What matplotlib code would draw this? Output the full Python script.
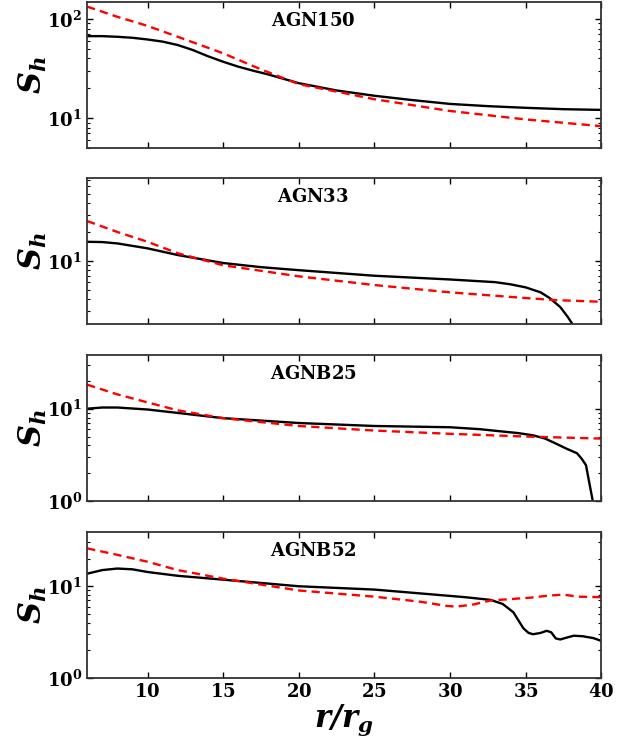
import numpy as np
import matplotlib
matplotlib.use("Agg")
import matplotlib.pyplot as plt
from matplotlib import ticker

plt.rcParams['mathtext.fontset'] = 'custom'
plt.rcParams['mathtext.rm'] = 'DejaVu Serif'
plt.rcParams['mathtext.it'] = 'DejaVu Serif:italic'
plt.rcParams['mathtext.bf'] = 'DejaVu Serif:bold'
plt.rcParams['mathtext.bfit'] = 'DejaVu Serif:italic:bold'
plt.rcParams['font.family'] = 'serif'
plt.rcParams['font.serif'] = ['DejaVu Serif']

names = ["AGN150", "AGN33", "AGNB25", "AGNB52"]

# panel 1
r1_b = [6, 7, 8, 9, 10, 11, 12, 13, 14, 15, 16, 17, 18, 20, 22.5, 25, 27.5, 30, 32.5, 35, 37.5, 40]
s1_b = [67, 67, 66, 64.5, 62, 59, 54.5, 48.5, 42, 37, 33, 30, 27.5, 22.5, 19, 16.8, 15.2, 13.9, 13.2, 12.7, 12.3, 12.1]
r1_r = [6, 8, 10, 12, 15, 17.5, 20, 22.5, 25, 30, 35, 40]
s1_r = [133, 105, 85, 66, 45, 31, 22, 18.5, 15.5, 11.8, 9.7, 8.3]

# panel 2
r2_b = [6, 7, 8, 10, 12, 15, 17.5, 20, 25, 30, 33, 34, 35, 36, 36.6, 37.3, 37.8, 38.1, 38.5]
s2_b = [15.8, 15.7, 15.2, 13.5, 11.5, 9.5, 8.6, 8.0, 7.0, 6.4, 6.0, 5.7, 5.3, 4.7, 4.1, 3.3, 2.6, 2.2, 1.6]
r2_r = [6, 8, 10, 12, 15, 20, 25, 30, 35, 37, 40]
s2_r = [26, 20, 15.8, 12, 9.0, 6.9, 5.6, 4.7, 4.1, 3.9, 3.75]

# panel 3
r3_b = [6, 7, 8, 10, 12, 15, 20, 25, 30, 32, 33.3, 34.5, 35.5, 36.3, 37, 37.7, 38.4, 38.7, 39, 39.45, 39.6]
s3_b = [10, 10.3, 10.3, 9.8, 9, 7.9, 7.0, 6.5, 6.3, 6.0, 5.7, 5.45, 5.15, 4.75, 4.2, 3.7, 3.3, 2.9, 2.45, 1.0, 0.8]
r3_r = [6, 8, 10, 12, 15, 20, 25, 30, 35, 40]
s3_r = [18.2, 14.3, 11.7, 9.6, 7.9, 6.5, 5.8, 5.35, 5.0, 4.75]

# panel 4
r4_b = [6, 7, 8, 9, 10, 12, 15, 20, 25, 29.8, 31, 32.7, 33.5, 34.2, 34.85, 35.2, 35.5,
        36, 36.4, 36.7, 37, 37.3, 37.7, 38.2, 38.8, 39.5, 40]
s4_b = [13.7, 15.0, 15.6, 15.3, 14.3, 13, 11.8, 10, 9.2, 7.9, 7.6, 7.1, 6.4, 5.2, 3.5, 3.1, 3.0,
        3.1, 3.27, 3.15, 2.7, 2.63, 2.75, 2.89, 2.85, 2.72, 2.54]
r4_r = [6, 8, 10, 12, 15, 20, 25, 28, 29.8, 30.4, 31.5, 32.7, 35.3, 36.5, 37.5, 38.5, 40]
s4_r = [25.9, 22, 18.5, 15, 12.1, 9.0, 7.7, 6.8, 6.1, 6.0, 6.3, 7.0, 7.5, 7.9, 8.1, 7.7, 7.6]

black = [(r1_b, s1_b), (r2_b, s2_b), (r3_b, s3_b), (r4_b, s4_b)]
red = [(r1_r, s1_r), (r2_r, s2_r), (r3_r, s3_r), (r4_r, s4_r)]
ylims = [(5, 148), (2.2, 73), (1, 38), (1, 39)]

fig = plt.figure(figsize=(6.31, 7.38), dpi=100)
bottoms = [0.7995, 0.561, 0.321, 0.0813]

def logfmt(v, pos):
    e = int(round(np.log10(v)))
    return r'$\mathbf{10^{%d}}$' % e

for i in range(4):
    ax = fig.add_axes([0.138, bottoms[i], 0.8146, 0.1978])
    ax.plot(black[i][0], black[i][1], color='black', lw=1.7)
    ax.plot(red[i][0], red[i][1], color='red', lw=1.7, ls='--', dashes=(3.5, 2.2))
    ax.set_yscale('log')
    ax.set_xlim(6, 40)
    ax.set_ylim(*ylims[i])
    ax.set_xticks([10, 15, 20, 25, 30, 35, 40])
    ax.yaxis.set_major_formatter(ticker.FuncFormatter(logfmt))
    ax.yaxis.set_minor_formatter(ticker.NullFormatter())
    ax.tick_params(which='both', direction='in', top=True, right=True)
    ax.tick_params(which='major', length=4, width=1, labelsize=13)
    ax.tick_params(which='minor', length=2, width=0.8)
    for sp in ax.spines.values():
        sp.set_linewidth(1.3)
        sp.set_color('#333333')
    ax.text(0.44, 0.87, r'$\mathbf{%s}$' % names[i], transform=ax.transAxes,
            ha='center', va='center', fontsize=13)
    ax.set_ylabel(r'$\mathbfit{S_h}$', fontsize=22)
    ax.yaxis.set_label_coords(-0.075, 0.5)
    if i < 3:
        ax.set_xticklabels([])
    else:
        ax.xaxis.set_major_formatter(ticker.FuncFormatter(lambda v, p: r'$\mathbf{%d}$' % v))
        ax.set_xlabel(r'$\mathbfit{r/r_g}$', fontsize=22)
        ax.xaxis.set_label_coords(0.5, -0.17)

plt.savefig("out.png", dpi=100)
